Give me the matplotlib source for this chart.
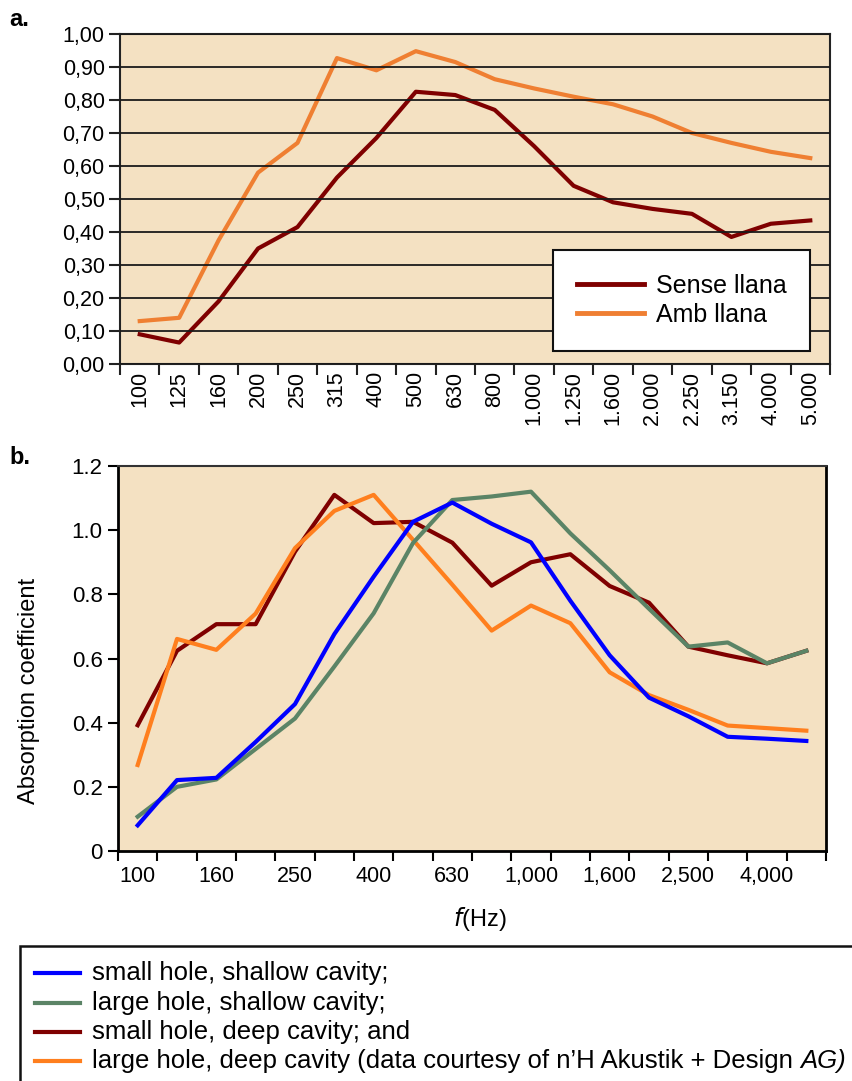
import numpy as np
import matplotlib
matplotlib.use("Agg")
import matplotlib.pyplot as plt
from matplotlib.lines import Line2D
from matplotlib.patches import Rectangle

plt.rcParams['font.family'] = ['Liberation Sans', 'DejaVu Sans']

# panel a data
freqs_a = ['100', '125', '160', '200', '250', '315', '400', '500', '630', '800',
           '1.000', '1.250', '1.600', '2.000', '2.250', '3.150', '4.000', '5.000']
sense_llana = [0.09, 0.065, 0.19, 0.35, 0.415, 0.565, 0.685, 0.825, 0.815, 0.77,
               0.66, 0.54, 0.49, 0.47, 0.455, 0.385, 0.425, 0.435]
amb_llana = [0.13, 0.14, 0.375, 0.58, 0.67, 0.927, 0.89, 0.948, 0.915, 0.863,
             0.835, 0.81, 0.787, 0.75, 0.70, 0.67, 0.643, 0.624]

# panel b data
freqs_b = ['100', '125', '160', '200', '250', '315', '400', '500', '630', '800',
           '1,000', '1,250', '1,600', '2,000', '2,500', '3,150', '4,000', '5,000']
small_shallow = [0.08, 0.221, 0.228, 0.34, 0.458, 0.676, 0.855, 1.026, 1.086, 1.02,
                 0.962, 0.78, 0.61, 0.478, 0.42, 0.356, 0.35, 0.343]
large_shallow = [0.107, 0.20, 0.223, 0.318, 0.413, 0.575, 0.741, 0.96, 1.094, 1.105,
                 1.12, 0.99, 0.875, 0.755, 0.637, 0.65, 0.585, 0.624]
small_deep = [0.392, 0.624, 0.707, 0.707, 0.933, 1.11, 1.022, 1.026, 0.961, 0.827,
              0.90, 0.925, 0.826, 0.774, 0.637, 0.61, 0.585, 0.624]
large_deep = [0.268, 0.661, 0.627, 0.74, 0.944, 1.06, 1.11, 0.97, 0.83, 0.687,
              0.765, 0.71, 0.557, 0.486, 0.44, 0.391, 0.383, 0.375]

labels_b = ['small hole, shallow cavity;', 'large hole, shallow cavity;',
            'small hole, deep cavity; and',
            'large hole, deep cavity (data courtesy of n\u2019H Akustik + Design ']
colors_b = ['#0000FF', '#5B8466', '#7F0000', '#FF7F1E']
zorders_b = [5, 4, 2, 3]

bg = '#F4E1C2'

fig = plt.figure(figsize=(8.53, 10.81), dpi=100)

# ---------- panel a ----------
ax1 = fig.add_axes([120/853, 1-364/1081, 710/853, 330/1081])
ax1.set_facecolor(bg)
x_a = np.arange(len(freqs_a))
ax1.plot(x_a, sense_llana, color='#7F0000', lw=3, label='Sense llana')
ax1.plot(x_a, amb_llana, color='#EF7F32', lw=3, label='Amb llana')
ax1.set_xlim(-0.5, len(freqs_a) - 0.5)
ax1.set_ylim(0, 1.0)
ax1.set_yticks(np.arange(0, 1.01, 0.1))
ax1.set_yticklabels([f'{v:.2f}'.replace('.', ',') for v in np.arange(0, 1.01, 0.1)], fontsize=15.5)
ax1.set_xticks(np.arange(-0.5, len(freqs_a), 1))
ax1.set_xticklabels([])
ax1.set_xticks(x_a, minor=True)
ax1.set_xticklabels(freqs_a, minor=True, rotation=90, fontsize=15.5)
ax1.tick_params(axis='x', which='minor', length=0, pad=5)
ax1.tick_params(axis='x', which='major', length=8, width=1.5, color='#222222')
ax1.tick_params(axis='y', length=8, width=1.5, color='#222222', pad=3)
ax1.yaxis.grid(True, color='#1a1a1a', lw=1.3)
ax1.set_axisbelow(False)
for s in ['left', 'bottom', 'right', 'top']:
    ax1.spines[s].set_color('#222222')
    ax1.spines[s].set_linewidth(1.5)
leg = ax1.legend(loc='lower right', bbox_to_anchor=(0.972, 0.04), fontsize=18,
                 fancybox=False, framealpha=1, edgecolor='#111111', borderaxespad=0,
                 handlelength=2.7, borderpad=0.95, labelspacing=0.2, handletextpad=0.45)
leg.get_frame().set_linewidth(1.5)
for line in leg.get_lines():
    line.set_linewidth(3.5)
fig.text(9/853, 1-19/1081, 'a.', fontsize=17, fontweight='bold', va='center')

# ---------- panel b ----------
ax2 = fig.add_axes([118/853, 1-851/1081, 708/853, 385/1081])
ax2.set_facecolor(bg)
x_b = np.arange(len(freqs_b))
series_b = [small_shallow, large_shallow, small_deep, large_deep]
for vals, c, z in zip(series_b, colors_b, zorders_b):
    ax2.plot(x_b, vals, color=c, lw=3, zorder=z)
ax2.set_xlim(-0.5, len(freqs_b) - 0.5)
ax2.set_ylim(0, 1.2)
ax2.set_yticks([0, 0.2, 0.4, 0.6, 0.8, 1.0, 1.2])
ax2.set_yticklabels(['0', '0.2', '0.4', '0.6', '0.8', '1.0', '1.2'], fontsize=16)
ax2.set_xticks(np.arange(-0.5, len(freqs_b), 1))
ax2.set_xticklabels([])
ax2.set_xticks(x_b[::2], minor=True)
ax2.set_xticklabels(freqs_b[::2], minor=True, fontsize=15.5)
ax2.tick_params(axis='x', which='minor', length=0, pad=11)
ax2.tick_params(axis='x', which='major', length=7, width=1.5)
ax2.tick_params(axis='y', length=7, width=1.5, pad=4)
for s in ['left', 'bottom', 'right']:
    ax2.spines[s].set_linewidth(2)
ax2.spines['top'].set_linewidth(1.5)
ax2.spines['top'].set_color('#333333')
ax2.set_ylabel('Absorption coefficient', fontsize=17)
ax2.yaxis.set_label_coords(-0.11, 0.416)
ax2.set_xlabel('$f$(Hz)', fontsize=17)
ax2.xaxis.set_label_coords(0.511, -0.14)
fig.text(9/853, 1-457/1081, 'b.', fontsize=17, fontweight='bold', va='center')

# ---------- bottom legend ----------
fig.add_artist(Rectangle((20/853, -0.05), 1.0, 0.05 + 1 - 946/1081,
                         transform=fig.transFigure, fill=False, lw=1.8, ec='#111111'))
row_y = [973, 1003, 1032, 1061]
lf = 18.5
texts = []
for yy, lab, c in zip(row_y, labels_b, colors_b):
    yf = 1 - yy/1081
    fig.add_artist(Line2D([35/853, 80/853], [yf, yf], transform=fig.transFigure, color=c, lw=3))
    t = fig.text(92/853, yf, lab, fontsize=lf, va='center')
    texts.append(t)
fig.canvas.draw()
r = fig.canvas.get_renderer()
bb = texts[-1].get_window_extent(r)
fig.text(bb.x1/853, 1 - row_y[-1]/1081, 'AG)', fontsize=lf, va='center', style='italic')

fig.savefig('out.png', dpi=100)
